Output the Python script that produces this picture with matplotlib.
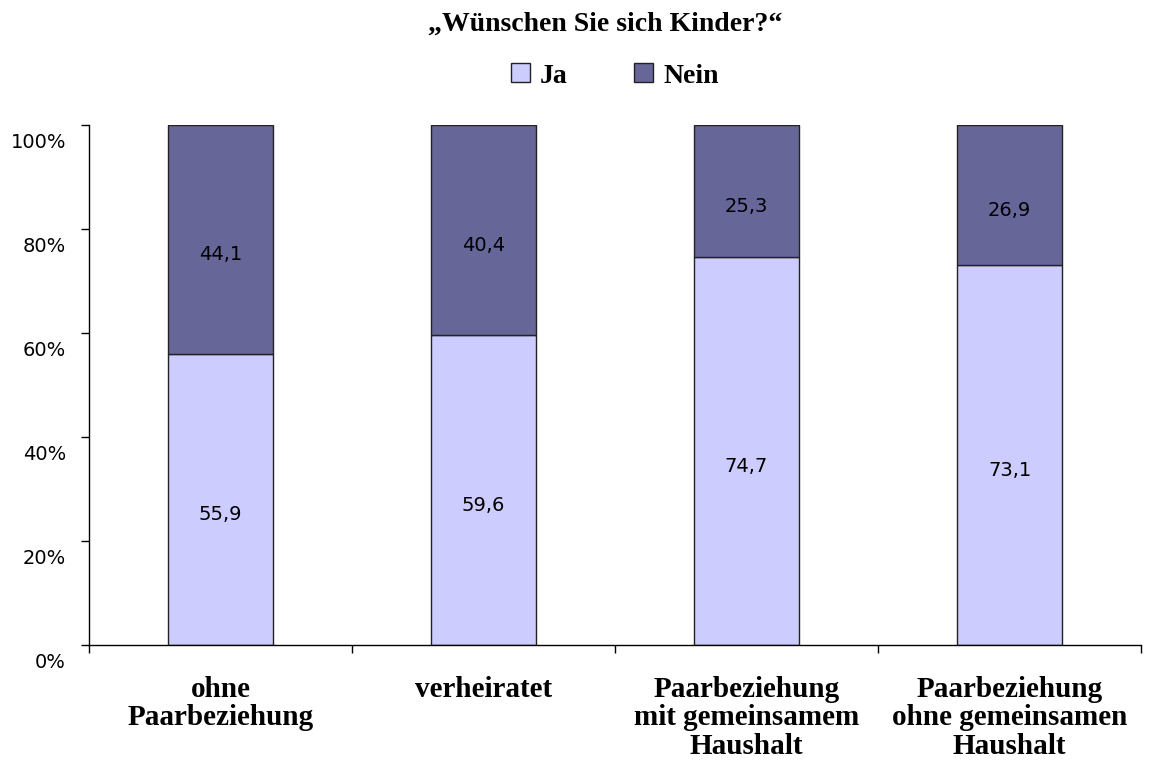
import numpy as np
import matplotlib
matplotlib.use("Agg")
import matplotlib.pyplot as plt
from matplotlib.transforms import ScaledTranslation

# data
categories = ["ohne\nPaarbeziehung", "verheiratet",
              "Paarbeziehung\nmit gemeinsamem\nHaushalt",
              "Paarbeziehung\nohne gemeinsamen\nHaushalt"]
ja = [55.9, 59.6, 74.7, 73.1]
nein = [44.1, 40.4, 25.3, 26.9]
series_names = ["Ja", "Nein"]
y_ticks = [0, 20, 40, 60, 80, 100]

col_ja = "#CCCCFF"
col_nein = "#666699"
serif = ["Liberation Serif", "DejaVu Serif"]
sans = ["DejaVu Sans"]

fig = plt.figure(figsize=(11.62, 7.63), dpi=100)
ax = fig.add_axes([89 / 1162, 118 / 763, 1052 / 1162, 520 / 763])

x = np.arange(len(categories))
b1 = ax.bar(x, ja, width=0.4, color=col_ja, edgecolor="#222222", linewidth=1.0,
            label=series_names[0])
b2 = ax.bar(x, nein, width=0.4, bottom=ja, color=col_nein, edgecolor="#222222",
            linewidth=1.0, label=series_names[1])

# value labels (Excel puts them a bit below the segment middle)
for xi, a, n in zip(x, ja, nein):
    for mid, val in ((a / 2, a), (a + n / 2, n)):
        ax.annotate(f"{val:.1f}".replace(".", ","), (xi, mid),
                    xytext=(0, -11), textcoords="offset points",
                    ha="center", va="center", fontsize=14, family=sans,
                    color="black")

ax.set_xlim(-0.5, len(categories) - 0.5)
ax.set_ylim(0, 100)

ax.set_yticks(y_ticks)
ax.set_yticklabels([f"{t}%" for t in y_ticks], fontsize=14, family=sans)
ax.tick_params(axis="y", direction="out", length=5.5, width=1, pad=11)
shift = ScaledTranslation(0, -0.15, fig.dpi_scale_trans)
for lbl in ax.get_yticklabels():
    lbl.set_transform(lbl.get_transform() + shift)

ax.set_xticks(x)
ax.set_xticklabels(categories, fontsize=21, fontweight="bold", family=serif,
                   linespacing=1.09, va="top")
ax.set_xticks(np.arange(len(categories) + 1) - 0.5, minor=True)
ax.tick_params(axis="x", which="major", length=0, pad=22)
ax.tick_params(axis="x", which="minor", direction="out", length=6, width=1)

for side in ("top", "right"):
    ax.spines[side].set_visible(False)
ax.spines["left"].set_linewidth(1)
ax.spines["bottom"].set_linewidth(1)

fig.text(605 / 1162, 1 - 24 / 763, "\u201eWünschen Sie sich Kinder?\u201c",
         ha="center", va="center", fontsize=20, fontweight="bold", family=serif)

fig.legend(handles=[b1, b2], labels=series_names, loc="center",
           bbox_to_anchor=(615 / 1162, 1 - 76 / 763), ncol=2, frameon=False,
           handlelength=0.68, handleheight=0.68, handletextpad=0.35,
           columnspacing=2.4,
           prop={"family": serif, "weight": "bold", "size": 20})

fig.savefig("out.png", dpi=100)
